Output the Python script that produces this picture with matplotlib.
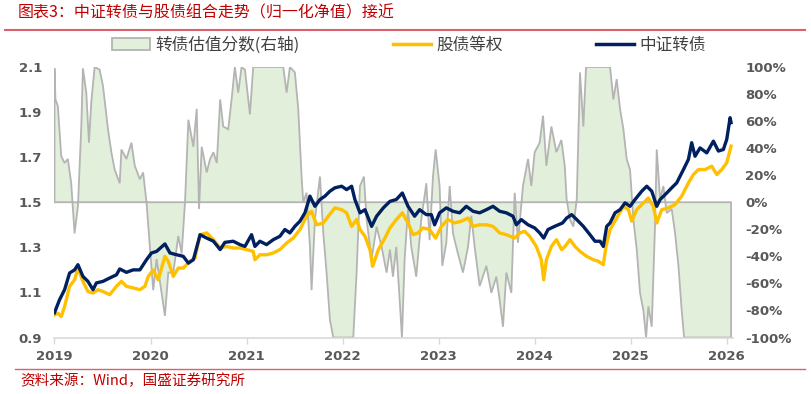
import numpy as np
import matplotlib.pyplot as plt
from matplotlib.lines import Line2D
from matplotlib.patches import Patch

plt.rcParams['font.family'] = ['DejaVu Sans', 'Noto Sans CJK SC']
CJK = ['Noto Sans CJK SC', 'DejaVu Sans']

# 中证转债（归一化净值），x 为年份
zz_x = [2019.000, 2019.052, 2019.105, 2019.157, 2019.209, 2019.244, 2019.296, 2019.348,
        2019.401, 2019.436, 2019.505, 2019.575, 2019.645, 2019.679, 2019.749, 2019.819,
        2019.889, 2019.958, 2020.010, 2020.063, 2020.150, 2020.202, 2020.272, 2020.341,
        2020.394, 2020.446, 2020.516, 2020.585, 2020.655, 2020.725, 2020.774, 2020.861,
        2020.931, 2020.983, 2021.052, 2021.087, 2021.139, 2021.208, 2021.278, 2021.347,
        2021.399, 2021.451, 2021.503, 2021.556, 2021.608, 2021.660, 2021.712, 2021.764,
        2021.816, 2021.868, 2021.920, 2021.990, 2022.042, 2022.094, 2022.128, 2022.181,
        2022.233, 2022.302, 2022.354, 2022.424, 2022.493, 2022.559, 2022.622, 2022.681,
        2022.750, 2022.802, 2022.872, 2022.924, 2022.958, 2023.010, 2023.080, 2023.149,
        2023.219, 2023.288, 2023.358, 2023.427, 2023.497, 2023.566, 2023.635, 2023.705,
        2023.774, 2023.809, 2023.861, 2023.931, 2024.000, 2024.052, 2024.094, 2024.139,
        2024.208, 2024.290, 2024.333, 2024.385, 2024.438, 2024.507, 2024.576, 2024.628,
        2024.681, 2024.715, 2024.750, 2024.785, 2024.837, 2024.889, 2024.941, 2024.993,
        2025.045, 2025.115, 2025.167, 2025.219, 2025.271, 2025.306, 2025.375, 2025.427,
        2025.479, 2025.549, 2025.601, 2025.635, 2025.670, 2025.722, 2025.792, 2025.861,
        2025.913, 2025.965, 2026.000, 2026.035, 2026.045]
zz_y = [1.010, 1.067, 1.112, 1.186, 1.200, 1.223, 1.171, 1.149,
        1.112, 1.142, 1.149, 1.164, 1.178, 1.204, 1.189, 1.200,
        1.200, 1.245, 1.275, 1.282, 1.315, 1.275, 1.267, 1.260,
        1.230, 1.245, 1.356, 1.341, 1.327, 1.290, 1.322, 1.327,
        1.312, 1.304, 1.356, 1.304, 1.327, 1.312, 1.334, 1.349,
        1.379, 1.364, 1.393, 1.416, 1.453, 1.527, 1.482, 1.512,
        1.527, 1.549, 1.564, 1.571, 1.556, 1.571, 1.512, 1.453,
        1.467, 1.393, 1.438, 1.475, 1.504, 1.512, 1.541, 1.482,
        1.438, 1.467, 1.445, 1.445, 1.400, 1.453, 1.475, 1.460,
        1.453, 1.482, 1.460, 1.453, 1.467, 1.482, 1.460, 1.453,
        1.438, 1.400, 1.423, 1.400, 1.386, 1.364, 1.341, 1.379,
        1.393, 1.408, 1.430, 1.445, 1.423, 1.393, 1.356, 1.327,
        1.327, 1.304, 1.393, 1.408, 1.453, 1.467, 1.497, 1.482,
        1.512, 1.549, 1.571, 1.549, 1.482, 1.512, 1.541, 1.564,
        1.586, 1.645, 1.690, 1.764, 1.704, 1.741, 1.719, 1.771,
        1.727, 1.734, 1.779, 1.875, 1.853]

# 股债等权
gd_x = [2019.000, 2019.035, 2019.070, 2019.105, 2019.157, 2019.209, 2019.244, 2019.296,
        2019.348, 2019.401, 2019.453, 2019.505, 2019.575, 2019.645, 2019.697, 2019.749,
        2019.819, 2019.889, 2019.941, 2019.976, 2020.028, 2020.080, 2020.150, 2020.185,
        2020.237, 2020.289, 2020.341, 2020.411, 2020.463, 2020.516, 2020.585, 2020.655,
        2020.725, 2020.792, 2020.861, 2020.931, 2021.000, 2021.069, 2021.087, 2021.139,
        2021.208, 2021.278, 2021.347, 2021.417, 2021.486, 2021.556, 2021.625, 2021.677,
        2021.729, 2021.799, 2021.851, 2021.920, 2021.990, 2022.042, 2022.094, 2022.146,
        2022.181, 2022.233, 2022.285, 2022.313, 2022.372, 2022.441, 2022.493, 2022.559,
        2022.622, 2022.681, 2022.733, 2022.785, 2022.837, 2022.906, 2022.969, 2023.028,
        2023.097, 2023.167, 2023.236, 2023.306, 2023.358, 2023.427, 2023.497, 2023.566,
        2023.635, 2023.705, 2023.792, 2023.844, 2023.896, 2023.948, 2024.017, 2024.069,
        2024.094, 2024.122, 2024.174, 2024.226, 2024.280, 2024.316, 2024.368, 2024.420,
        2024.472, 2024.542, 2024.611, 2024.663, 2024.715, 2024.743, 2024.785, 2024.854,
        2024.924, 2024.976, 2025.010, 2025.063, 2025.132, 2025.184, 2025.236, 2025.271,
        2025.323, 2025.392, 2025.462, 2025.531, 2025.601, 2025.653, 2025.705, 2025.774,
        2025.844, 2025.896, 2025.948, 2026.000, 2026.045]
gd_y = [1.000, 1.008, 0.993, 1.037, 1.127, 1.156, 1.208, 1.149,
        1.104, 1.097, 1.112, 1.104, 1.090, 1.127, 1.149, 1.127,
        1.120, 1.112, 1.127, 1.171, 1.200, 1.156, 1.260, 1.238,
        1.171, 1.208, 1.208, 1.238, 1.253, 1.356, 1.364, 1.334,
        1.297, 1.304, 1.297, 1.297, 1.290, 1.282, 1.245, 1.267,
        1.267, 1.275, 1.290, 1.319, 1.341, 1.379, 1.438, 1.460,
        1.400, 1.408, 1.438, 1.475, 1.467, 1.453, 1.393, 1.423,
        1.379, 1.349, 1.290, 1.216, 1.290, 1.341, 1.386, 1.423,
        1.453, 1.408, 1.356, 1.364, 1.386, 1.379, 1.341, 1.393,
        1.423, 1.408, 1.416, 1.430, 1.393, 1.400, 1.400, 1.393,
        1.364, 1.356, 1.341, 1.364, 1.371, 1.349, 1.304, 1.245,
        1.156, 1.245, 1.304, 1.334, 1.290, 1.304, 1.334, 1.304,
        1.282, 1.260, 1.245, 1.238, 1.223, 1.304, 1.379, 1.430,
        1.482, 1.467, 1.416, 1.467, 1.497, 1.519, 1.482, 1.408,
        1.467, 1.475, 1.490, 1.527, 1.586, 1.623, 1.645, 1.645,
        1.660, 1.623, 1.645, 1.675, 1.749]

# 转债估值分数（右轴，%），图中截断在 ±100%
gz_x = [2019.000, 2019.010, 2019.035, 2019.070, 2019.105, 2019.139, 2019.174, 2019.209,
        2019.244, 2019.279, 2019.296, 2019.331, 2019.359, 2019.383, 2019.418, 2019.470,
        2019.505, 2019.557, 2019.592, 2019.627, 2019.679, 2019.697, 2019.749, 2019.801,
        2019.836, 2019.889, 2019.923, 2019.958, 2019.993, 2020.028, 2020.063, 2020.115,
        2020.150, 2020.185, 2020.237, 2020.289, 2020.324, 2020.359, 2020.394, 2020.446,
        2020.481, 2020.505, 2020.533, 2020.585, 2020.620, 2020.655, 2020.690, 2020.725,
        2020.757, 2020.809, 2020.844, 2020.878, 2020.913, 2020.948, 2020.983, 2021.035,
        2021.069, 2021.382, 2021.417, 2021.451, 2021.503, 2021.538, 2021.573, 2021.590,
        2021.625, 2021.660, 2021.677, 2021.712, 2021.764, 2021.799, 2021.833, 2021.868,
        2021.903, 2022.111, 2022.146, 2022.181, 2022.222, 2022.250, 2022.302, 2022.354,
        2022.406, 2022.458, 2022.493, 2022.524, 2022.559, 2022.594, 2022.618, 2022.646,
        2022.681, 2022.715, 2022.767, 2022.819, 2022.872, 2022.906, 2022.941, 2022.969,
        2023.010, 2023.038, 2023.080, 2023.115, 2023.149, 2023.201, 2023.253, 2023.306,
        2023.340, 2023.375, 2023.427, 2023.497, 2023.549, 2023.601, 2023.635, 2023.670,
        2023.705, 2023.757, 2023.792, 2023.826, 2023.878, 2023.931, 2023.965, 2024.000,
        2024.052, 2024.087, 2024.122, 2024.174, 2024.226, 2024.278, 2024.313, 2024.333,
        2024.368, 2024.403, 2024.438, 2024.472, 2024.507, 2024.535, 2024.785, 2024.819,
        2024.854, 2024.889, 2024.924, 2024.958, 2024.993, 2025.028, 2025.063, 2025.097,
        2025.132, 2025.160, 2025.184, 2025.219, 2025.253, 2025.271, 2025.306, 2025.340,
        2025.375, 2025.427, 2025.462, 2025.497, 2025.531, 2025.556, 2026.045]
gz_y = [99, 76, 71, 34, 29, 32, 14, -23,
        -3, 56, 99, 81, 44, 74, 100, 98,
        86, 54, 37, 24, 14, 39, 32, 44,
        27, 17, 22, 0, -33, -65, -42, -67,
        -84, -52, -52, -25, -38, 0, 61, 41,
        69, -5, 41, 22, 32, 37, 29, 76,
        56, 54, 76, 100, 81, 100, 98, 65,
        100, 100, 81, 100, 96, 69, 19, 0,
        7, -33, -65, -13, 19, -23, -52, -87,
        -100, -100, -52, 12, 19, -13, -42, -18,
        -33, -52, -35, -55, -33, -72, -100, -42,
        -5, -33, -55, -13, 14, -28, 19, 39,
        12, -47, -30, 12, -23, -38, -52, -33,
        -10, -33, -62, -47, -67, -55, -72, -92,
        -52, -67, 7, -30, 12, 32, 12, 37,
        44, 64, 27, 56, 37, 46, 27, 2,
        -13, -18, 2, 96, 56, 100, 100, 76,
        91, 69, 54, 32, 24, -13, -35, -67,
        -80, -100, -77, -92, -18, 39, 2, 12,
        -8, -5, -23, -47, -80, -100, -100]

years = [2019, 2020, 2021, 2022, 2023, 2024, 2025, 2026]
left_ticks = [0.9, 1.1, 1.3, 1.5, 1.7, 1.9, 2.1]
right_ticks = [-100, -80, -60, -40, -20, 0, 20, 40, 60, 80, 100]

GRAY_TXT = '#595959'
RED = '#c00000'

fig = plt.figure(figsize=(8.11, 3.94), dpi=100)
ax = fig.add_axes([0.0672, 0.1434, 0.8366, 0.6866])
ax2 = ax.twinx()
ax.set_zorder(ax2.get_zorder() + 1)
ax.patch.set_visible(False)

# 面积图（右轴）
xs = [gz_x[0]] + gz_x + [gz_x[-1]]
ys = [0] + gz_y + [0]
ax2.fill(xs, ys, facecolor='#e2efda', edgecolor='#b4b4b4', lw=1.3)
ax2.set_ylim(-100, 100)

ax.plot(gd_x, gd_y, color='#ffc000', lw=2.4, solid_joinstyle='round')
ax.plot(zz_x, zz_y, color='#002060', lw=2.4, solid_joinstyle='round')

ax.set_xlim(2019.0, 2026.065)
ax.set_ylim(0.9, 2.1)
ax.set_xticks(years)
ax.set_xticklabels([str(y) for y in years])
ax.set_yticks(left_ticks)
ax.set_yticklabels([f'{v:.1f}' for v in left_ticks])
ax2.set_yticks(right_ticks)
ax2.set_yticklabels([f'{v}%' for v in right_ticks])

for a in (ax, ax2):
    for s in a.spines.values():
        s.set_visible(False)
ax.spines['bottom'].set_visible(True)
ax.spines['bottom'].set_color('#d9d9d9')
ax.spines['bottom'].set_linewidth(1.2)

ax.tick_params(axis='x', direction='out', length=4, width=1, color='#d9d9d9',
               pad=5, labelsize=9.5, labelcolor=GRAY_TXT)
ax.tick_params(axis='y', length=0, pad=9, labelsize=9.5, labelcolor=GRAY_TXT)
ax2.tick_params(axis='y', length=0, pad=9, labelsize=9.5, labelcolor=GRAY_TXT)
for lab in ax.get_xticklabels() + ax.get_yticklabels() + ax2.get_yticklabels():
    lab.set_fontweight('bold')

# 图例
handles = [Patch(facecolor='#e2efda', edgecolor='#b4b4b4', lw=1.3),
           Line2D([], [], color='#ffc000', lw=2.5),
           Line2D([], [], color='#002060', lw=2.5)]
labels = ['转债估值分数(右轴)', '股债等权', '中证转债']
fig.legend(handles, labels, loc='center', bbox_to_anchor=(0.504, 0.886), ncol=3,
           frameon=False, prop={'family': CJK, 'size': 12}, labelcolor='#404040',
           handlelength=2.3, handletextpad=0.3, columnspacing=5.6)

# 标题、来源和红线
fig.text(0.022, 0.966, '图表3：中证转债与股债组合走势（归一化净值）接近', color=RED,
         fontsize=11.5, family=CJK, style='italic', va='center', ha='left')
fig.add_artist(Line2D([5 / 811, 805 / 811], [1 - 30 / 394, 1 - 30 / 394],
                      color='#d9606c', lw=1.5))
fig.add_artist(Line2D([15 / 811, 805 / 811], [1 - 369 / 394, 1 - 369 / 394],
                      color='#d9606c', lw=1.0))
fig.text(0.025, 0.033, '资料来源：Wind，国盛证券研究所', color=RED, fontsize=10.5,
         family=CJK, style='italic', va='center', ha='left')

fig.savefig('out.png', dpi=100)
